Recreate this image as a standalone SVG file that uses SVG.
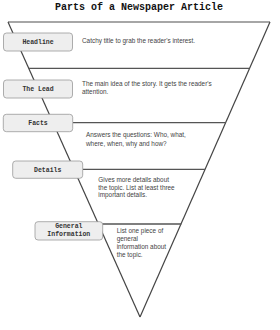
<svg xmlns="http://www.w3.org/2000/svg" width="280" height="330" viewBox="0 0 280 330">
<style>
.bg{fill:#ffffff}
.title{font-family:"Liberation Mono","DejaVu Sans Mono",monospace;font-weight:bold;font-size:10px;fill:#111}
.edge{stroke:#444;stroke-width:1.2;fill:none}
.top{stroke:#888;stroke-width:1.5;fill:none}
.sep{stroke:#555;stroke-width:1.3;fill:none}
.box{fill:#eeeeee;stroke:#999;stroke-width:0.8}
.lbl{font-family:"Liberation Mono","DejaVu Sans Mono",monospace;font-weight:bold;font-size:6.5px;fill:#333;text-anchor:middle}
.txt{font-family:"Liberation Sans",Arial,sans-serif;font-size:6.4px;fill:#444}
</style>
<rect class="bg" x="0" y="0" width="280" height="330"/>
<text class="title" x="139" y="10" text-anchor="middle">Parts of a Newspaper Article</text>
<g id="connectors">
<line class="top" x1="8" y1="22" x2="270" y2="22"/>
<line class="edge" x1="8" y1="22" x2="140" y2="317"/>
<line class="edge" x1="270" y1="22" x2="140" y2="317"/>
<line class="sep" x1="28.7" y1="68.3" x2="249.6" y2="68.3"/>
<line class="sep" x1="73" y1="122.7" x2="225.6" y2="122.7"/>
<line class="sep" x1="83" y1="169.3" x2="205" y2="169.3"/>
<line class="sep" x1="102" y1="224" x2="181.3" y2="224"/>
</g>
<g id="headline">
<rect class="box" x="3.5" y="33" width="69" height="18" rx="3"/>
<text class="lbl" x="38" y="44.3">Headline</text>
<text class="txt" x="82" y="43">Catchy title to grab the reader's interest.</text>
</g>
<g id="lead">
<rect class="box" x="3.5" y="80" width="69" height="18" rx="3"/>
<text class="lbl" x="38" y="91.3">The Lead</text>
<text class="txt" x="82" y="85.5">The main idea of the story. It gets the reader's</text>
<text class="txt" x="82" y="93.8">attention.</text>
</g>
<g id="facts">
<rect class="box" x="3.3" y="114.3" width="69.4" height="17.4" rx="3"/>
<text class="lbl" x="38" y="125">Facts</text>
<text class="txt" x="86" y="137.2">Answers the questions: Who, what,</text>
<text class="txt" x="86" y="145.5">where, when, why and how?</text>
</g>
<g id="details">
<rect class="box" x="12.7" y="161" width="70" height="17.3" rx="3"/>
<text class="lbl" x="47.7" y="171.7">Details</text>
<text class="txt" x="98.3" y="182.2">Gives more details about</text>
<text class="txt" x="98.3" y="189.6">the topic.  List at least three</text>
<text class="txt" x="98.3" y="197.2">important details.</text>
</g>
<g id="general-information">
<rect class="box" x="35" y="221.7" width="67.7" height="18.3" rx="3"/>
<text class="lbl" x="68.8" y="228.3">General</text>
<text class="lbl" x="68.8" y="236.3">Information</text>
<text class="txt" x="116.7" y="232.9">List one piece of</text>
<text class="txt" x="116.7" y="241.1">general</text>
<text class="txt" x="116.7" y="249.4">information about</text>
<text class="txt" x="116.7" y="257.4">the topic.</text>
</g>
</svg>
